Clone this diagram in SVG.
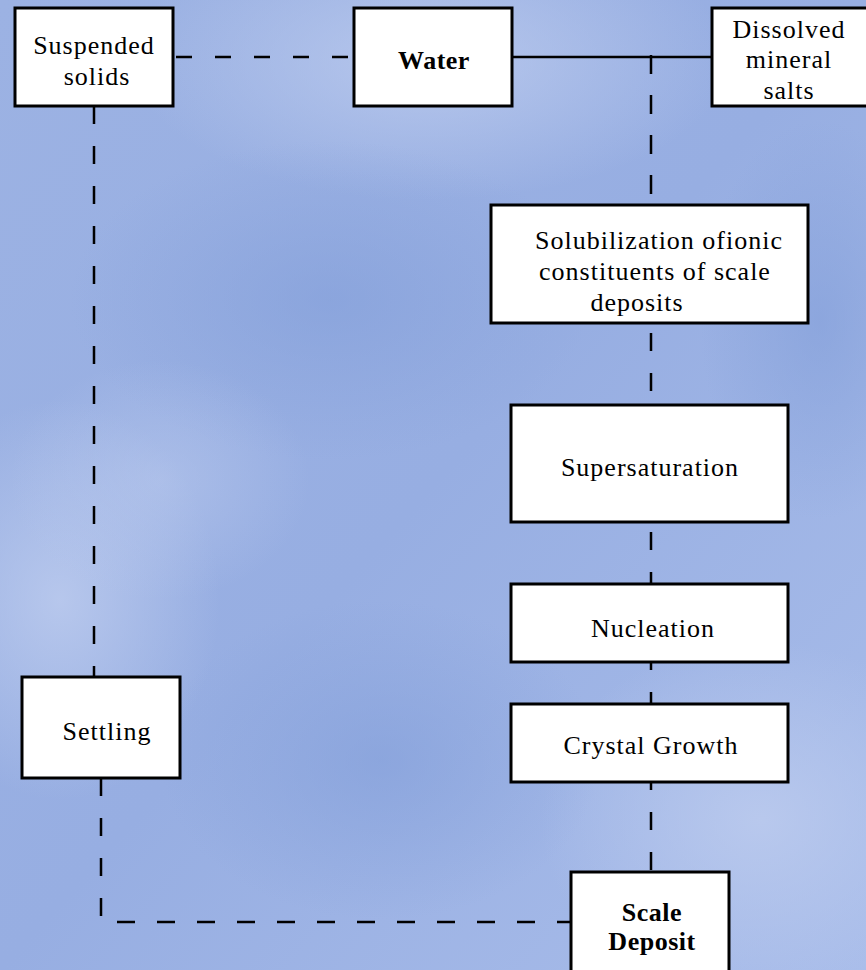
<svg xmlns="http://www.w3.org/2000/svg" width="866" height="970" viewBox="0 0 866 970">
  <defs>
    <linearGradient id="bg" x1="0" y1="0" x2="1" y2="1">
      <stop offset="0" stop-color="#9cb2e3"/>
      <stop offset="0.5" stop-color="#97aee2"/>
      <stop offset="1" stop-color="#a9bdea"/>
    </linearGradient>
    <radialGradient id="light">
      <stop offset="0" stop-color="#bccbee" stop-opacity="0.85"/>
      <stop offset="1" stop-color="#bccbee" stop-opacity="0"/>
    </radialGradient>
    <radialGradient id="dark">
      <stop offset="0" stop-color="#829ed9" stop-opacity="0.6"/>
      <stop offset="1" stop-color="#829ed9" stop-opacity="0"/>
    </radialGradient>
    <style>
      .box { fill: #ffffff; stroke: #000000; stroke-width: 3; }
      .t { font-family: "Liberation Serif", "Times New Roman", serif; font-size: 26px; letter-spacing: 1px; fill: #000000; text-anchor: middle; }
      .b { font-weight: bold; letter-spacing: 0.5px; }
      .dash { fill: none; stroke: #000000; stroke-width: 2.5; stroke-dasharray: 18 22; }
      .solid { fill: none; stroke: #000000; stroke-width: 2.5; }
    </style>
  </defs>

  <rect x="0" y="0" width="866" height="970" fill="url(#bg)"/>
  <ellipse cx="430" cy="60" rx="300" ry="140" fill="url(#light)"/>
  <ellipse cx="60" cy="600" rx="160" ry="200" fill="url(#light)"/>
  <ellipse cx="760" cy="820" rx="220" ry="180" fill="url(#light)"/>
  <ellipse cx="330" cy="300" rx="260" ry="160" fill="url(#dark)"/>
  <ellipse cx="820" cy="320" rx="120" ry="200" fill="url(#dark)"/>
  <ellipse cx="380" cy="760" rx="220" ry="160" fill="url(#dark)"/>
  <ellipse cx="160" cy="480" rx="150" ry="120" fill="url(#light)" opacity="0.6"/>

  <g id="connectors">
    <path class="dash" d="M176 57 H354" style="stroke-dasharray:16 23"/>
    <path class="solid" d="M512 57 H712"/>
    <path class="dash" d="M651 55 V205" style="stroke-dasharray:19 21"/>
    <path class="dash" d="M651 323 V405" stroke-dashoffset="30"/>
    <path class="dash" d="M651 522 V584" stroke-dashoffset="30"/>
    <path class="dash" d="M651 662 V704" stroke-dashoffset="10"/>
    <path class="dash" d="M651 782 V872" stroke-dashoffset="10"/>
    <path class="dash" d="M94 106 V677"/>
    <path class="dash" d="M101 778 V922 H571"/>
  </g>

  <g id="suspended-solids">
    <rect class="box" x="15" y="8" width="158" height="98"/>
    <text class="t" x="94" y="54">Suspended</text>
    <text class="t" x="97" y="85">solids</text>
  </g>
  <g id="water">
    <rect class="box" x="354" y="8" width="158" height="98"/>
    <text class="t b" x="434" y="69">Water</text>
  </g>
  <g id="dissolved-mineral-salts">
    <rect class="box" x="712" y="8" width="160" height="98"/>
    <text class="t" x="789" y="38">Dissolved</text>
    <text class="t" x="789" y="68">mineral</text>
    <text class="t" x="789" y="99">salts</text>
  </g>
  <g id="solubilization">
    <rect class="box" x="491" y="205" width="317" height="118"/>
    <text class="t" x="659" y="249">Solubilization ofionic</text>
    <text class="t" x="655" y="280">constituents of scale</text>
    <text class="t" x="637" y="311">deposits</text>
  </g>
  <g id="supersaturation">
    <rect class="box" x="511" y="405" width="277" height="117"/>
    <text class="t" x="650" y="476">Supersaturation</text>
  </g>
  <g id="nucleation">
    <rect class="box" x="511" y="584" width="277" height="78"/>
    <text class="t" x="653" y="637">Nucleation</text>
  </g>
  <g id="crystal-growth">
    <rect class="box" x="511" y="704" width="277" height="78"/>
    <text class="t" x="651" y="754">Crystal Growth</text>
  </g>
  <g id="settling">
    <rect class="box" x="22" y="677" width="158" height="101"/>
    <text class="t" x="107" y="740">Settling</text>
  </g>
  <g id="scale-deposit">
    <rect class="box" x="571" y="872" width="158" height="110"/>
    <text class="t b" x="652" y="921">Scale</text>
    <text class="t b" x="652" y="950">Deposit</text>
  </g>
</svg>
